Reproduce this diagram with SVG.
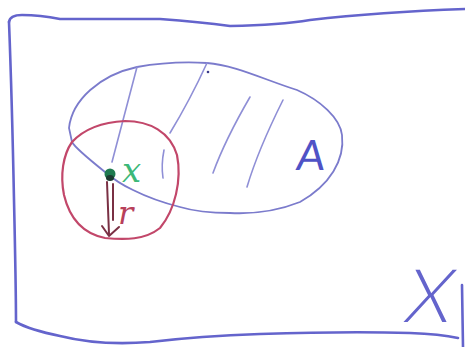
<svg xmlns="http://www.w3.org/2000/svg" width="465" height="347" viewBox="0 0 465 347">
<style>
.frame{fill:none;stroke:#6464cc;stroke-width:2.6;stroke-linecap:round;stroke-linejoin:round}
.set{fill:none;stroke:#7b7bcc;stroke-width:1.8;stroke-linecap:round}
.hatch{fill:none;stroke:#8f8fd6;stroke-width:1.6;stroke-linecap:round}
.ball{fill:none;stroke:#c2476a;stroke-width:2.2;stroke-linecap:round}
.rad{fill:none;stroke:#7a3044;stroke-width:2;stroke-linecap:round;stroke-linejoin:round}
.lblA{font-family:Lato,"Liberation Sans",sans-serif;font-size:42px;fill:#4f52c6}
.lblX{font-family:Lato,"Liberation Sans",sans-serif;font-weight:300;font-size:74px;fill:#6464cc}
.lblx{font-family:"DejaVu Serif",serif;font-style:italic;font-size:34px;fill:#3cb878}
.lblr{font-family:"DejaVu Serif",serif;font-style:italic;font-size:32px;fill:#b8405a}
</style>
<g id="frame">
<path class="frame" d="M9,22 Q10,15 22,15 Q40,15 60,19 Q120,19 160,19 Q200,22 230,26 Q280,25 310,20 Q380,12 465,9"/>
<path class="frame" d="M9,22 Q12,100 14,200 Q16,290 16,322"/>
<path class="frame" d="M16,322 Q30,330 60,336 Q100,346 150,342 Q200,336 260,334 Q350,331 410,333 Q440,334 458,338"/>
<path class="frame" d="M462,285 L463,347"/>
</g>
<g id="setA">
<path class="set" d="M69,128 C72,100 100,75 137,67 C165,62 190,62 207,63 C235,65 265,80 297,90 C320,100 340,118 342,135 C345,160 330,185 300,202 C275,212 250,214 230,213 C210,213 190,210 180,207 C160,202 145,196 133,190 C120,184 112,178 105,172 C90,160 75,148 72,142 Z"/>
<path class="hatch" d="M137,67 L112,162"/>
<path class="hatch" d="M207,63 Q190,100 170,133"/>
<path class="hatch" d="M164,150 Q161,165 163,178"/>
<path class="hatch" d="M250,97 Q225,140 213,173"/>
<path class="hatch" d="M283,100 Q258,150 247,187"/>
<circle cx="208" cy="72" r="1.3" fill="#3a3a8a"/>
</g>
<g id="ball">
<path class="ball" d="M72,142 C85,128 105,122 125,121 C150,121 170,132 177,155 C182,180 175,210 160,228 C145,240 125,240 105,238 C85,234 70,220 64,195 C60,175 63,155 72,142 Z"/>
</g>
<g id="point">
<circle cx="110" cy="174" r="5.5" fill="#1f7a50"/>
<ellipse cx="110" cy="178" rx="4" ry="3" fill="#1c3a30"/>
</g>
<g id="connectors">
<path class="rad" d="M107,182 L109,234"/>
<path class="rad" d="M113,184 L113,220"/>
<path class="rad" d="M102,226 L109,236 L119,227"/>
</g>
<g id="labels">
<text class="lblx" x="122" y="182">x</text>
<text class="lblr" x="118" y="224">r</text>
<text class="lblA" x="296" y="170" transform="skewX(-6) translate(17,0)">A</text>
<text class="lblX" x="402" y="322" transform="translate(402,322) skewX(-12) translate(-402,-322)">X</text>
</g>
</svg>
